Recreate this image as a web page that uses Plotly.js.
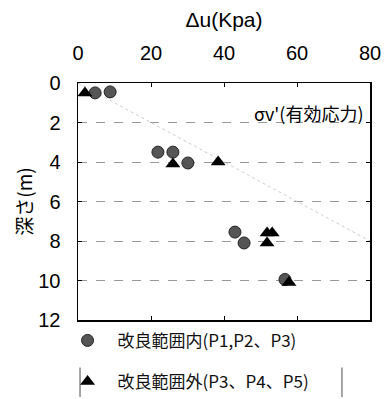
<!DOCTYPE html>
<html><head><meta charset="utf-8">
<script src="https://cdn.plot.ly/plotly-3.0.1.min.js"></script>
<style>body{margin:0;background:#fff}#c{width:384px;height:399px}</style>
</head><body><div id="c"></div>
<script>
// Data (Δu in kPa, depth in m)
const insideName = '改良範囲内(P1,P2、P3)';
const insideX = [4.7, 8.8, 21.9, 26.0, 30.1, 43.0, 45.5, 56.7];
const insideY = [0.5, 0.45, 3.5, 3.5, 4.05, 7.55, 8.1, 9.95];
const outsideName = '改良範囲外(P3、P4、P5)';
const outsideX = [1.9, 26.0, 38.4, 51.8, 53.2, 51.8, 57.8];
const outsideY = [0.5, 4.1, 4.0, 7.6, 7.6, 8.1, 10.1];
const sigmaX = [0, 80];
const sigmaY = [0, 8];
const sigmaLabel = "σv'(有効応力)";
const xTicks = [0, 20, 40, 60, 80];
const yTicks = [0, 2, 4, 6, 8, 10, 12];

const cjk = '"Noto Sans CJK JP", "Liberation Sans", sans-serif';
const num = '"Liberation Sans", Arial, sans-serif';

const traces = [
  {x: sigmaX, y: sigmaY, mode: 'lines', showlegend: false, hoverinfo: 'skip',
   line: {color: '#ccc', width: 1, dash: 'dot'}},
  {x: insideX, y: insideY, mode: 'markers', name: insideName, legendgroup: 'a',
   marker: {symbol: 'circle', size: 12, color: '#555', line: {color: '#222', width: 1}}},
  {x: outsideX, y: outsideY, mode: 'markers', name: outsideName, legendgroup: 'b',
   marker: {symbol: 'triangle-up', size: 13, color: '#000'}}
];

const layout = {
  width: 384, height: 399,
  margin: {l: 78, r: 14, t: 83, b: 79, autoexpand: false},
  paper_bgcolor: '#fff', plot_bgcolor: '#fff',
  showlegend: true,
  legend: {x: -0.07, y: -0.012, xanchor: 'left', yanchor: 'top',
    traceorder: 'grouped', tracegroupgap: 16, itemwidth: 50,
    font: {family: cjk, size: 17, color: '#111'}, bgcolor: 'rgba(0,0,0,0)'},
  xaxis: {side: 'top', range: [0, 80], tickvals: xTicks, showgrid: false, zeroline: false,
    showline: true, linecolor: '#000', linewidth: 1.5, mirror: 'all',
    ticks: 'inside', ticklen: 4, tickcolor: '#000', ticklabelstandoff: 14,
    tickfont: {family: num, size: 20, color: '#000'},
    title: {text: 'Δu(Kpa)', font: {family: num, size: 21, color: '#000'}, standoff: 8}},
  yaxis: {range: [12, 0], tickvals: yTicks, showgrid: true, gridcolor: '#999', griddash: 'dash',
    gridwidth: 1, zeroline: false,
    showline: true, linecolor: '#000', linewidth: 1.5, mirror: 'all',
    ticks: 'inside', ticklen: 4, tickcolor: '#000', ticklabelstandoff: 12,
    tickfont: {family: num, size: 20, color: '#000'},
    title: {text: '深さ(m)', font: {family: cjk, size: 19, color: '#000'}, standoff: 0}},
  annotations: [{x: 79, y: 1.5, xref: 'x', yref: 'y', text: sigmaLabel, showarrow: false,
    xanchor: 'right', yanchor: 'middle', font: {family: cjk, size: 18, color: '#000'}}],
  shapes: [
    {type: 'line', xref: 'paper', yref: 'paper', x0: 0.007, x1: 0.007, y0: -0.2, y1: -0.325,
     line: {color: '#888', width: 1.5}},
    {type: 'line', xref: 'paper', yref: 'paper', x0: 0.904, x1: 0.904, y0: -0.2, y1: -0.325,
     line: {color: '#888', width: 1.5}}
  ]
};
Plotly.newPlot('c', traces, layout, {displayModeBar: false, staticPlot: true});
</script></body></html>
